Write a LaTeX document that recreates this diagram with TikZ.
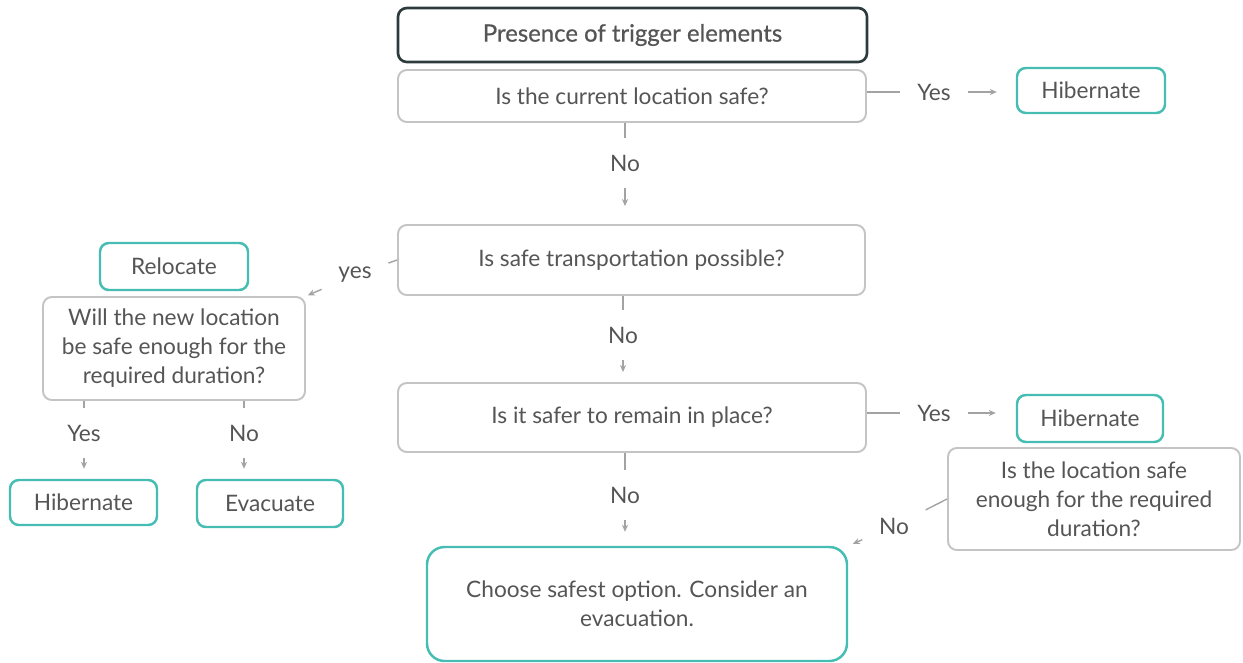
\documentclass[tikz,border=0pt]{standalone}
\usepackage{fontspec}
\setmainfont{Lato}
\newfontfamily\triggerfont[FakeBold=0.6]{Lato}
\usetikzlibrary{arrows.meta,positioning,calc}
\definecolor{txtgray}{HTML}{555555}
\definecolor{boxgray}{HTML}{C4C4C4}
\definecolor{tealbox}{HTML}{45BDB3}
\definecolor{darkbox}{HTML}{2E3B3E}
\definecolor{linegray}{HTML}{A3A3A3}

\begin{document}
\begin{tikzpicture}[font=\fontsize{12.9}{16.5}\selectfont,>={Stealth[length=4pt,width=3.5pt]},
 box/.style={rounded corners=5pt,align=center,text=txtgray,inner sep=0pt,line width=1.1pt},
 qbox/.style={box,draw=boxgray},
 abox/.style={box,draw=tealbox,line width=1.4pt},
 topbox/.style={box,draw=darkbox,line width=1.5pt,font=\triggerfont\fontsize{13.6}{16}\selectfont},
 lbl/.style={text=txtgray,inner sep=0.33cm},
 conn/.style={draw=linegray,line width=0.8pt}]
\useasboundingbox (0,0) rectangle (24.86,-13.24);
\node[topbox,minimum width=9.38cm,minimum height=1.08cm] (trigger) at (12.65,-0.70) {Presence of trigger elements};
\node[qbox,minimum width=9.36cm,minimum height=1.04cm] (current) at (12.64,-1.92) {Is the current location safe?};
\node[abox,minimum width=2.96cm,minimum height=0.90cm] (hib1) at (21.82,-1.81) {Hibernate};
\node[qbox,minimum width=9.34cm,minimum height=1.40cm] (transport) at (12.63,-5.20) {Is safe transportation possible?};
\node[abox,minimum width=2.96cm,minimum height=0.94cm] (relocate) at (3.48,-5.33) {Relocate};
\node[qbox,minimum width=5.24cm,minimum height=2.06cm] (newloc) at (3.48,-6.97) {Will the new location\\be safe enough for the\\required duration?};
\node[abox,minimum width=2.94cm,minimum height=0.90cm] (hib2) at (1.67,-10.05) {Hibernate};
\node[abox,minimum width=2.92cm,minimum height=0.94cm] (evac) at (5.40,-10.07) {Evacuate};
\node[qbox,minimum width=9.36cm,minimum height=1.38cm] (remain) at (12.64,-8.35) {Is it safer to remain in place?};
\node[abox,minimum width=2.92cm,minimum height=0.94cm] (hib3) at (21.80,-8.37) {Hibernate};
\node[qbox,minimum width=5.84cm,minimum height=2.04cm] (locsafe) at (21.88,-9.98) {Is the location safe\\enough for the required\\duration?};
\node[abox,rounded corners=10pt,minimum width=8.40cm,minimum height=2.28cm] (final) at (12.74,-12.08) {Choose safest option. Consider an\\evacuation.};
% answer labels
\node[lbl] (yes1) at (18.68,-1.84) {Yes};
\node[lbl] (no1) at (12.50,-3.26) {No};
\node[lbl] (yes2) at (7.10,-5.50) {yes};
\node[lbl] (no2) at (12.46,-6.70) {No};
\node[lbl] (yes3) at (1.68,-8.66) {Yes};
\node[lbl] (no3) at (4.88,-8.66) {No};
\node[lbl] (yes4) at (18.68,-8.26) {Yes};
\node[lbl] (no4) at (12.50,-9.90) {No};
\node[lbl] (no5) at (17.88,-10.52) {No};
% connectors
\draw[conn] (yes1.west -| current.east) -- (yes1);
\draw[conn,->,shorten >=0.38cm] (yes1) -- (yes1 -| hib1.west);
\draw[conn] (current.south -| no1) -- (no1);
\draw[conn,->,shorten >=0.36cm] (no1) -- (no1 |- transport.north);
\draw[conn] (transport.west) -- (yes2);
\draw[conn,->,shorten >=0.04cm] (yes2) -- (newloc.north east);
\draw[conn] (newloc.south -| yes3) -- (yes3);
\draw[conn,->,shorten >=0.2cm] (yes3) -- (yes3 |- hib2.north);
\draw[conn] (newloc.south -| no3) -- (no3);
\draw[conn,->,shorten >=0.2cm] (no3) -- (no3 |- evac.north);
\draw[conn] (transport.south -| no2) -- (no2);
\draw[conn,->,shorten >=0.2cm] (no2) -- (no2 |- remain.north);
\draw[conn] (yes4.west -| remain.east) -- (yes4);
\draw[conn,->,shorten >=0.4cm] (yes4) -- (yes4 -| hib3.west);
\draw[conn] (remain.south -| no4) -- (no4);
\draw[conn,->,shorten >=0.28cm] (no4) -- (no4 |- final.north);
\draw[conn] (locsafe.west) -- (no5);
\draw[conn,->,shorten >=0.1cm] (no5) -- (final.north east);
\end{tikzpicture}
\end{document}
